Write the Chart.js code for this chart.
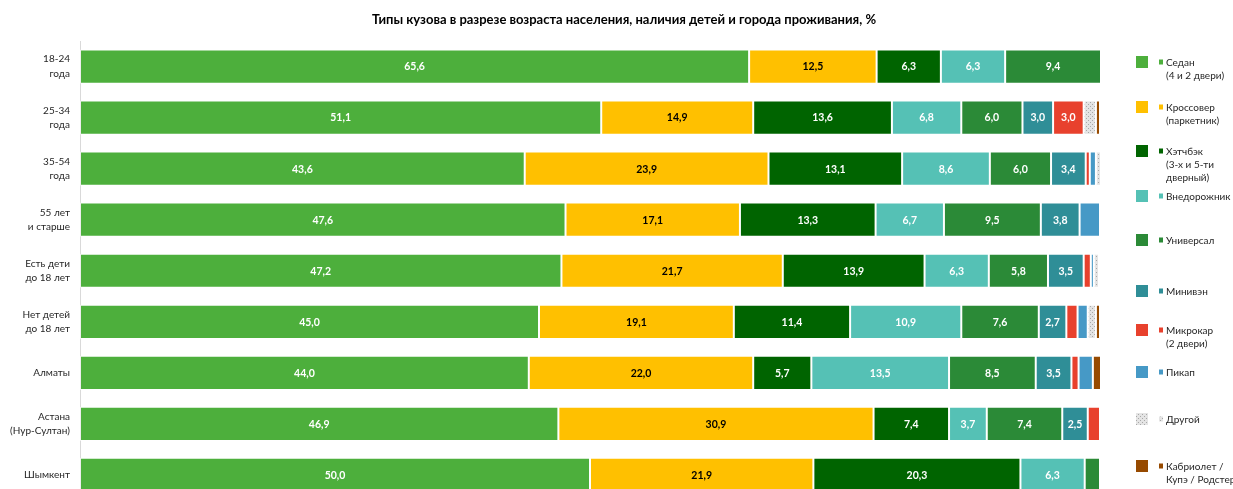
<!DOCTYPE html>
<html lang="ru">
<head>
<meta charset="UTF-8">
<title>Типы кузова</title>
<style>
  html, body { margin: 0; padding: 0; background: #fff; overflow: hidden; }
</style>
</head>
<body>
<canvas id="bodyChart" width="1233" height="525"></canvas>
<script src="https://cdn.jsdelivr.net/npm/chart.js@4.4.1/dist/chart.umd.min.js"></script>
<script>
// Row labels (multi-line)
const categories = [
  ['18-24', 'года'],
  ['25-34', 'года'],
  ['35-54', 'года'],
  ['55 лет', 'и старше'],
  ['Есть дети', 'до 18 лет'],
  ['Нет детей', 'до 18 лет'],
  ['Алматы'],
  ['Астана', '(Нур-Султан)'],
  ['Шымкент']
];

// Shares by body type, %
const sedan     = [65.6, 51.1, 43.6, 47.6, 47.2, 45.0, 44.0, 46.9, 50.0];
const crossover = [12.5, 14.9, 23.9, 17.1, 21.7, 19.1, 22.0, 30.9, 21.9];
const hatchback = [6.3, 13.6, 13.1, 13.3, 13.9, 11.4, 5.7, 7.4, 20.3];
const suv       = [6.3, 6.8, 8.6, 6.7, 6.3, 10.9, 13.5, 3.7, 6.3];
const wagon     = [9.4, 6.0, 6.0, 9.5, 5.8, 7.6, 8.5, 7.4, 1.5];
const minivan   = [0, 3.0, 3.4, 3.8, 3.5, 2.7, 3.5, 2.5, 0];
const microcar  = [0, 3.0, 0.4, 0, 0.7, 1.1, 0.7, 1.2, 0];
const pickup    = [0, 0, 0.6, 2.0, 0.3, 1.0, 1.4, 0, 0];
const other     = [0, 1.2, 0.5, 0, 0.5, 0.8, 0, 0, 0];
const cabrio    = [0, 0.4, 0, 0, 0, 0.4, 0.8, 0, 0];

const seriesNames = [
  ['Седан', '(4 и 2 двери)'],
  ['Кроссовер', '(паркетник)'],
  ['Хэтчбэк', '(3-х и 5-ти', 'дверный)'],
  ['Внедорожник'],
  ['Универсал'],
  ['Минивэн'],
  ['Микрокар', '(2 двери)'],
  ['Пикап'],
  ['Другой'],
  ['Кабриолет /', 'Купэ / Родстер']
];

const chartTitle = 'Типы кузова в разрезе возраста населения, наличия детей и города проживания, %';

// dotted grey fill for "Другой"
function dotPattern() {
  const c = document.createElement('canvas');
  c.width = 4; c.height = 4;
  const g = c.getContext('2d');
  g.fillStyle = '#e4e4e4';
  g.fillRect(0, 0, 4, 4);
  g.fillStyle = '#a8a8a8';
  g.fillRect(0, 0, 1, 1);
  g.fillRect(2, 2, 1, 1);
  return g.createPattern(c, 'repeat');
}

const colors = ['#4daf3c', '#ffc000', '#006400', '#55c1b5', '#2b8a37',
                '#2f8e97', '#e8412d', '#4699c6', dotPattern(), '#974a00'];
const values = [sedan, crossover, hatchback, suv, wagon, minivan, microcar, pickup, other, cabrio];

const datasets = values.map((v, i) => ({
  label: seriesNames[i].join(' '),
  data: v,
  backgroundColor: colors[i],
  borderColor: 'rgba(255,255,255,0.55)',
  borderWidth: 1,
  borderSkipped: false,
  barPercentage: 0.67,
  categoryPercentage: 1.0
}));

const FONT = 'Lato, "Open Sans", sans-serif';

// value labels in the middle of each segment
const segmentLabels = {
  id: 'segmentLabels',
  afterDatasetsDraw(chart) {
    const ctx = chart.ctx;
    ctx.save();
    ctx.font = 'bold 10.5px ' + FONT;
    ctx.textAlign = 'center';
    ctx.textBaseline = 'middle';
    chart.data.datasets.forEach((ds, di) => {
      const meta = chart.getDatasetMeta(di);
      meta.data.forEach((bar, i) => {
        const v = ds.data[i];
        if (v < 2.4) return;
        const p = bar.getProps(['x', 'y', 'base'], true);
        ctx.fillStyle = di === 1 ? '#000' : '#fff';
        ctx.fillText(v.toFixed(1).replace('.', ','), (p.x + p.base) / 2, p.y + 0.5);
      });
    });
    ctx.restore();
  }
};

// title and the legend on the right: big swatch, small swatch, wrapped text
const sideLegend = {
  id: 'sideLegend',
  afterDraw(chart) {
    const ctx = chart.ctx;
    const rows = [62, 107, 151, 196, 240, 291, 330, 372, 419, 466];
    ctx.save();
    ctx.fillStyle = '#000';
    ctx.font = 'bold 13px ' + FONT;
    ctx.textAlign = 'center';
    ctx.textBaseline = 'middle';
    ctx.fillText(chartTitle, 624, 20);

    ctx.font = '10px ' + FONT;
    ctx.textAlign = 'left';
    chart.data.datasets.forEach((ds, i) => {
      const y = rows[i];
      ctx.fillStyle = ds.backgroundColor;
      ctx.fillRect(1136, y - 6, 12, 12);
      ctx.fillRect(1159, y - 2.5, 4, 5);
      ctx.fillStyle = '#262626';
      seriesNames[i].forEach((line, k) => ctx.fillText(line, 1166, y + 1 + k * 13));
    });
    ctx.restore();
  }
};

new Chart(document.getElementById('bodyChart'), {
  type: 'bar',
  data: { labels: categories, datasets },
  options: {
    indexAxis: 'y',
    responsive: false,
    animation: false,
    layout: { padding: { left: 0, right: 133, top: 41, bottom: 0 } },
    plugins: {
      legend: { display: false },
      tooltip: { enabled: false },
      title: { display: false }
    },
    scales: {
      x: { stacked: true, min: 0, max: 100, display: false },
      y: {
        stacked: true,
        afterFit(scale) { scale.width = 80; },
        grid: { display: false, drawTicks: false },
        border: { display: true, color: '#d9d9d9', width: 1 },
        ticks: {
          color: '#262626',
          padding: 10,
          font: { family: FONT, size: 10, lineHeight: 1.45 }
        }
      }
    }
  },
  plugins: [segmentLabels, sideLegend]
});
</script>
</body>
</html>
